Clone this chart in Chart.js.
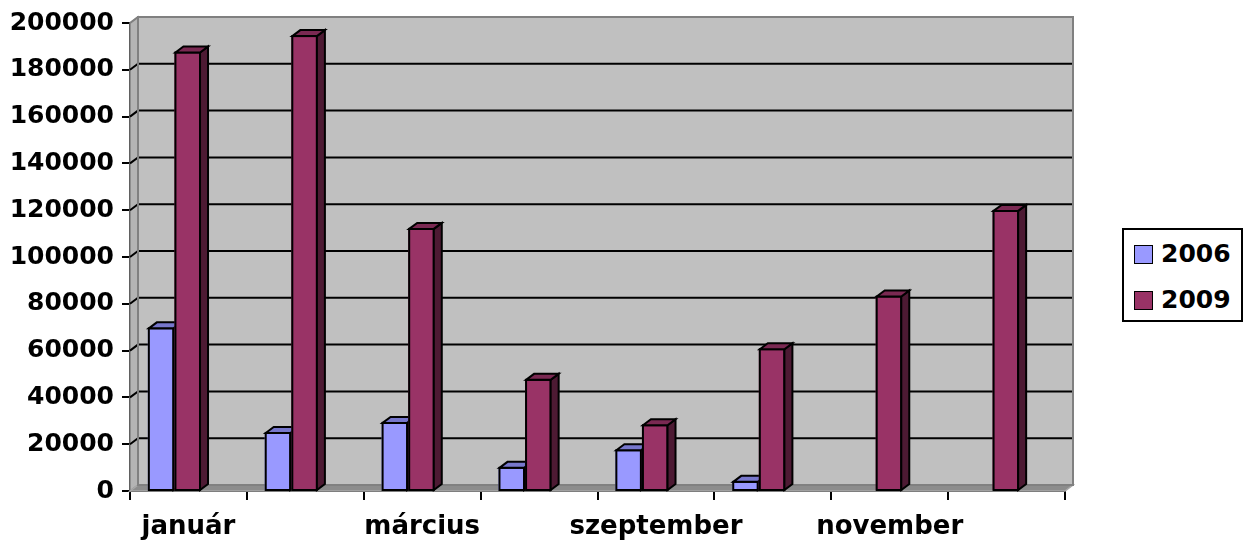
<!DOCTYPE html>
<html>
<head>
<meta charset="utf-8">
<script src="https://cdn.jsdelivr.net/npm/chart.js@4/dist/chart.umd.min.js"></script>
<style>
    body { margin: 0; background: #fff; }
    #wrap { position: relative; width: 1254px; height: 546px; }
    #legend {
        position: absolute; left: 1122px; top: 228px; width: 117px; height: 90px;
        border: 2px solid #000; background: #fff;
        font: bold 25px "DejaVu Sans", sans-serif; color: #000;
    }
    #legend div { position: absolute; left: 10px; height: 22px; line-height: 22px; }
    #legend span {
        display: inline-block; width: 17px; height: 17px; border: 1.5px solid #000;
        vertical-align: -2px; margin-right: 8px;
    }
</style>
</head>
<body>
<div id="wrap">
    <canvas id="chart" width="1254" height="546"></canvas>
    <div id="legend">
        <div style="top:13px"><span style="background:#9999ff"></span>2006</div>
        <div style="top:59px"><span style="background:#993366"></span>2009</div>
    </div>
</div>
<script>
const honapok = ['január', 'február', 'március', 'augusztus', 'szeptember', 'október', 'november', 'december'];
const ertek2006 = [69500, 24800, 29100, 9900, 17400, 3900, 0, 0];
const ertek2009 = [187400, 194400, 112000, 47500, 28100, 60600, 83100, 119700];
const yTicks = [0, 20000, 40000, 60000, 80000, 100000, 120000, 140000, 160000, 180000, 200000];

const DX = 8, DY = -6;      // melyseg a 3D hatashoz
const SHIFT = -14;          // oszlopok eltolasa balra

const elolSzin = ['#9999ff', '#993366'];
const oldalSzin = ['#4d4d80', '#4d1a33'];
const tetoSzin = ['#7777cc', '#7a2952'];

const falak = {
    id: 'falak',
    beforeDatasetsDraw(chart) {
        const { ctx, chartArea: a } = chart;
        const y = chart.scales.y;
        ctx.save();
        // hatso fal
        ctx.fillStyle = '#c0c0c0';
        ctx.fillRect(a.left + DX, a.top + DY, a.right - a.left, a.bottom - a.top);
        // bal oldalfal
        ctx.fillStyle = '#b4b4b4';
        ctx.beginPath();
        ctx.moveTo(a.left, a.top); ctx.lineTo(a.left + DX, a.top + DY);
        ctx.lineTo(a.left + DX, a.bottom + DY); ctx.lineTo(a.left, a.bottom);
        ctx.closePath(); ctx.fill();
        ctx.strokeStyle = '#808080'; ctx.lineWidth = 1.5; ctx.stroke();
        // padlo
        ctx.fillStyle = '#8c8c8c';
        ctx.beginPath();
        ctx.moveTo(a.left, a.bottom); ctx.lineTo(a.left + DX, a.bottom + DY);
        ctx.lineTo(a.right + DX, a.bottom + DY); ctx.lineTo(a.right, a.bottom);
        ctx.closePath(); ctx.fill();
        ctx.strokeStyle = '#a8a8a8'; ctx.stroke();
        // racsvonalak
        ctx.strokeStyle = '#000'; ctx.lineWidth = 2;
        yTicks.forEach(v => {
            if (v === 0 || v === 200000) return;
            const py = y.getPixelForValue(v);
            ctx.beginPath();
            ctx.moveTo(a.left, py); ctx.lineTo(a.left + DX, py + DY);
            ctx.lineTo(a.right + DX, py + DY);
            ctx.stroke();
        });
        // fal keret
        ctx.strokeStyle = '#808080'; ctx.lineWidth = 2;
        ctx.strokeRect(a.left + DX, a.top + DY, a.right - a.left, a.bottom - a.top);
        ctx.beginPath();
        ctx.moveTo(a.left, a.top); ctx.lineTo(a.left + DX, a.top + DY); ctx.stroke();
        ctx.restore();
    },
    afterDatasetsDraw(chart) {
        // 3D oszlopok: elol a 2006-os, utana a 2009-es, hogy az takarja
        const ctx = chart.ctx;
        ctx.save();
        ctx.translate(SHIFT, 0);
        ctx.lineWidth = 2; ctx.strokeStyle = '#000'; ctx.lineJoin = 'miter';
        chart.data.labels.forEach((_, j) => {
            chart.data.datasets.forEach((ds, i) => {
                if (!ds.data[j]) return;
                const bar = chart.getDatasetMeta(i).data[j];
                const l = bar.x - bar.width / 2, r = bar.x + bar.width / 2;
                const t = bar.y, b = bar.base;
                ctx.fillStyle = elolSzin[i];
                ctx.fillRect(l, t, r - l, b - t);
                ctx.strokeRect(l + 1, t, r - l - 2, b - t);
                ctx.fillStyle = oldalSzin[i];
                ctx.beginPath();
                ctx.moveTo(r - 1, t); ctx.lineTo(r - 1 + DX, t + DY); ctx.lineTo(r - 1 + DX, b + DY); ctx.lineTo(r - 1, b);
                ctx.closePath(); ctx.fill(); ctx.stroke();
                ctx.fillStyle = tetoSzin[i];
                ctx.beginPath();
                ctx.moveTo(l + 1, t); ctx.lineTo(l + 1 + DX, t + DY); ctx.lineTo(r - 1 + DX, t + DY); ctx.lineTo(r - 1, t);
                ctx.closePath(); ctx.fill(); ctx.stroke();
            });
        });
        ctx.restore();
    }
};

const betu = { family: '"DejaVu Sans", sans-serif', size: 25, weight: 'bold' };
const betuX = { family: '"DejaVu Sans", sans-serif', size: 26, weight: 'bold' };

new Chart(document.getElementById('chart'), {
    type: 'bar',
    data: {
        labels: honapok,
        datasets: [
            { label: '2006', data: ertek2006, backgroundColor: 'rgba(0,0,0,0)', borderWidth: 0 },
            { label: '2009', data: ertek2009, backgroundColor: 'rgba(0,0,0,0)', borderWidth: 0 }
        ]
    },
    options: {
        responsive: false,
        animation: false,
        events: [],
        layout: { padding: { top: 22, right: 189, left: 0, bottom: 0 } },
        datasets: { bar: { categoryPercentage: 0.455, barPercentage: 1 } },
        plugins: { legend: { display: false }, tooltip: { enabled: false } },
        scales: {
            x: {
                grid: { drawOnChartArea: false, tickLength: 9, color: '#000', lineWidth: 2 },
                border: { color: '#000', width: 2 },
                ticks: {
                    autoSkip: false, maxRotation: 0, color: '#000', font: betuX, padding: 12,
                    callback: function (v, i) { return i % 2 === 0 ? honapok[i] : ''; }
                },
                afterFit(s) { s.height = 55; }
            },
            y: {
                min: 0, max: 200000,
                grid: { drawOnChartArea: false, tickLength: 8, color: '#000', lineWidth: 2 },
                border: { color: '#000', width: 2 },
                ticks: {
                    stepSize: 20000, color: '#000', font: betu, padding: 8,
                    callback: function (v) { return String(v); }
                },
                afterFit(s) { s.width = 130; }
            }
        }
    },
    plugins: [falak]
});
</script>
</body>
</html>
